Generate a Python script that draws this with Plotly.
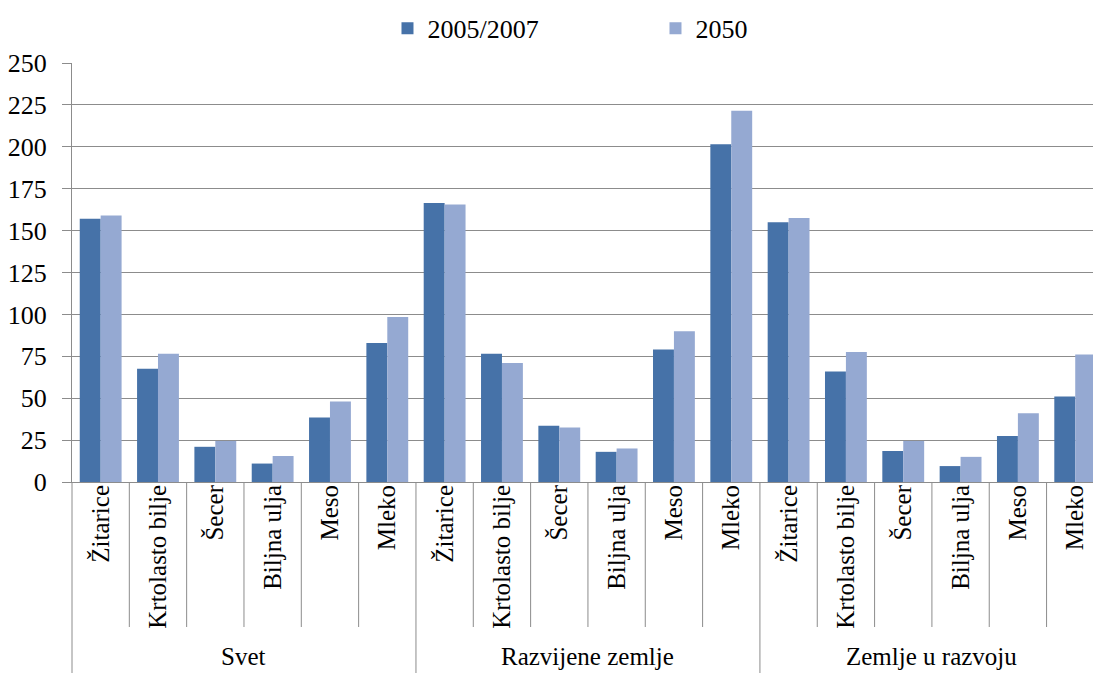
import plotly.graph_objects as go

groups = ["Svet", "Razvijene zemlje", "Zemlje u razvoju"]
products = ["Žitarice", "Krtolasto bilje", "Šecer", "Biljna ulja", "Meso", "Mleko"]
series_names = ["2005/2007", "2050"]

svet_0507 = [157, 67.5, 21, 11, 38.5, 83]
svet_2050 = [159, 76.5, 24.5, 15.5, 48, 98.5]
razv_0507 = [166.5, 76.5, 33.5, 18, 79, 201.5]
razv_2050 = [165.5, 71, 32.5, 20, 90, 221.5]
uraz_0507 = [155, 66, 18.5, 9.5, 27.5, 51]
uraz_2050 = [157.5, 77.5, 24.5, 15, 41, 76]

y_ticks = [0, 25, 50, 75, 100, 125, 150, 175, 200, 225, 250]

colors = ["#4672A8", "#95A9D2"]
GRID = "#8C8C8C"
FONT = "Liberation Serif, Times New Roman, serif"

inner = products * len(groups)
idx = list(range(len(inner)))
vals_a = svet_0507 + razv_0507 + uraz_0507
vals_b = svet_2050 + razv_2050 + uraz_2050

fig = go.Figure()
fig.add_trace(go.Bar(x=idx, y=vals_a, name=series_names[0],
                     marker=dict(color=colors[0], line=dict(width=0))))
fig.add_trace(go.Bar(x=idx, y=vals_b, name=series_names[1],
                     marker=dict(color=colors[1], line=dict(width=0))))

n = len(inner)
k = len(products)
x_lo, x_hi = -0.5, n - 0.5 - 0.19
span = x_hi - x_lo

plot_h = 673 - 63 - 191
inner_drop = -145 / plot_h
full_drop = -191 / plot_h
outer_y = -174 / plot_h

shapes = []
annotations = []
for i in range(0, n + 1):
    xp = (i - 0.5 - x_lo) / span
    if xp > 1:
        continue
    y1 = full_drop if i % k == 0 else inner_drop
    shapes.append(dict(type="line", xref="paper", yref="paper", x0=xp, x1=xp,
                       y0=0, y1=y1, line=dict(color=GRID, width=1)))
for g, name in enumerate(groups):
    xc = (g * k + (k - 1) / 2 - x_lo) / span
    annotations.append(dict(text=name, xref="paper", yref="paper", x=xc, y=outer_y,
                            xanchor="center", yanchor="middle", showarrow=False,
                            font=dict(family=FONT, size=25, color="black")))

fig.update_layout(
    width=1093, height=673,
    margin=dict(l=72, r=0, t=63, b=191, autoexpand=False),
    paper_bgcolor="white", plot_bgcolor="white",
    font=dict(family=FONT, size=25, color="black"),
    barmode="group", bargap=0.27, bargroupgap=0,
    showlegend=True,
    legend=dict(orientation="h", x=0.309, y=0.958, xanchor="left", yanchor="middle",
                yref="container",
                font=dict(family=FONT, size=26, color="black"),
                entrywidth=223, entrywidthmode="pixels",
                traceorder="normal"),
    shapes=shapes,
    annotations=annotations,
)
fig.update_yaxes(range=[0, 250], tickvals=y_ticks, ticks="outside", ticklen=9,
                 tickcolor=GRID, showgrid=True, gridcolor=GRID, gridwidth=1,
                 showline=True, linecolor=GRID, linewidth=1, ticklabelstandoff=10,
                 tickfont=dict(family=FONT, size=26, color="black"), zeroline=False)
fig.update_xaxes(range=[x_lo, x_hi], tickvals=idx, ticktext=inner, tickangle=-90,
                 showline=True, linecolor=GRID, linewidth=1, ticks="",
                 showgrid=False, zeroline=False, ticklabelstandoff=-8,
                 tickfont=dict(family=FONT, size=25, color="black"))

fig.write_html("out.html")
